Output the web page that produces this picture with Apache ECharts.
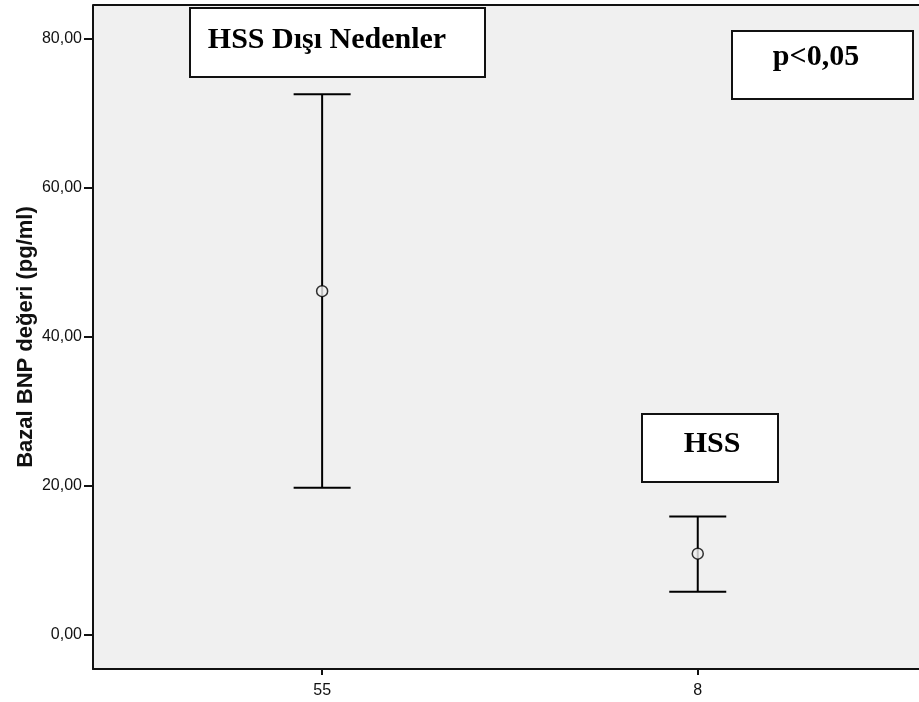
<!DOCTYPE html>
<html>
<head>
<meta charset="utf-8">
<script src="https://cdn.jsdelivr.net/npm/echarts@6/dist/echarts.min.js"></script>
<style>
  html, body { margin: 0; padding: 0; background: #ffffff; }
  #chart { width: 919px; height: 702px; }
</style>
</head>
<body>
<div id="chart"></div>
<script>
// Group labels (n per group) and their positions on the x scale
const groupLabels = ['55', '8'];
const groupPos = [1, 2];
// Mean Bazal BNP and 95% CI bounds per group
const means = [46.1, 10.9];
const ciLow = [19.75, 5.8];
const ciHigh = [72.5, 15.9];
// Y axis tick values
const yTicks = [0, 20, 40, 60, 80];

const chart = echarts.init(document.getElementById('chart'), null, { renderer: 'canvas' });

const fmtComma = v => v.toFixed(2).replace('.', ',');

const option = {
  animation: false,
  grid: {
    left: 93, top: 5, right: 0, height: 664,
    show: true, backgroundColor: '#f0f0f0', borderWidth: 0
  },
  xAxis: {
    type: 'value', min: 0.39, max: 2.589,
    axisLine: { show: true, onZero: false, lineStyle: { color: '#111', width: 2 } },
    axisTick: { show: true, customValues: groupPos, length: 6, lineStyle: { color: '#111', width: 2 } },
    axisLabel: {
      customValues: groupPos,
      formatter: v => groupLabels[groupPos.indexOf(Math.round(v))] || '',
      color: '#111', fontFamily: 'Liberation Sans', fontSize: 16, margin: 14
    },
    splitLine: { show: false }
  },
  yAxis: {
    type: 'value', min: -4.56, max: 84.46,
    name: 'Bazal BNP değeri (pg/ml)', nameLocation: 'middle', nameGap: 56,
    nameMoveOverlap: false,
    nameTextStyle: { fontFamily: 'Liberation Sans', fontWeight: 'bold', fontSize: 22, color: '#111' },
    axisLine: { show: true, onZero: false, lineStyle: { color: '#111', width: 2 } },
    axisTick: { show: true, customValues: yTicks, length: 9, lineStyle: { color: '#111', width: 2 } },
    axisLabel: {
      customValues: yTicks, formatter: v => fmtComma(v),
      color: '#111', fontFamily: 'Liberation Sans', fontSize: 16, margin: 11
    },
    splitLine: { show: false }
  },
  series: [
    {
      // confidence interval whiskers
      type: 'custom',
      data: groupPos.map((x, i) => [x, ciLow[i], ciHigh[i]]),
      renderItem: function (params, api) {
        const x = api.value(0);
        const lo = api.coord([x, api.value(1)]);
        const hi = api.coord([x, api.value(2)]);
        const half = 28.5;
        const style = { stroke: '#000', lineWidth: 2 };
        return {
          type: 'group',
          children: [
            { type: 'line', shape: { x1: lo[0], y1: lo[1], x2: hi[0], y2: hi[1] }, style },
            { type: 'line', shape: { x1: hi[0] - half, y1: hi[1], x2: hi[0] + half, y2: hi[1] }, style },
            { type: 'line', shape: { x1: lo[0] - half, y1: lo[1], x2: lo[0] + half, y2: lo[1] }, style }
          ]
        };
      },
      z: 2
    },
    {
      // group means
      type: 'scatter',
      data: groupPos.map((x, i) => [x, means[i]]),
      symbol: 'circle', symbolSize: 11,
      itemStyle: { color: '#f0f0f0', borderColor: '#000', borderWidth: 1.5 },
      z: 3
    }
  ],
  graphic: [
    {
      type: 'group', left: 189, top: 7,
      children: [
        { type: 'rect', shape: { x: 0, y: 0, width: 295, height: 69 },
          style: { fill: '#fff', stroke: '#111', lineWidth: 2 } },
        { type: 'text', x: 137, y: 32,
          style: { text: 'HSS Dışı Nedenler', fontFamily: 'Liberation Serif', fontWeight: 'bold',
                   fontSize: 30, fill: '#000', align: 'center', verticalAlign: 'middle' } }
      ]
    },
    {
      type: 'group', left: 731, top: 30,
      children: [
        { type: 'rect', shape: { x: 0, y: 0, width: 181, height: 68 },
          style: { fill: '#fff', stroke: '#111', lineWidth: 2 } },
        { type: 'text', x: 84, y: 26,
          style: { text: 'p<0,05', fontFamily: 'Liberation Serif', fontWeight: 'bold',
                   fontSize: 30, fill: '#000', align: 'center', verticalAlign: 'middle' } }
      ]
    },
    {
      type: 'group', left: 641, top: 413,
      children: [
        { type: 'rect', shape: { x: 0, y: 0, width: 136, height: 68 },
          style: { fill: '#fff', stroke: '#111', lineWidth: 2 } },
        { type: 'text', x: 70, y: 30,
          style: { text: 'HSS', fontFamily: 'Liberation Serif', fontWeight: 'bold',
                   fontSize: 30, fill: '#000', align: 'center', verticalAlign: 'middle' } }
      ]
    },
    {
      // top frame line of the plot panel
      type: 'line', shape: { x1: 93, y1: 5, x2: 919, y2: 5 },
      style: { stroke: '#111', lineWidth: 2 }, z: 10
    }
  ]
};

chart.setOption(option);
</script>
</body>
</html>
